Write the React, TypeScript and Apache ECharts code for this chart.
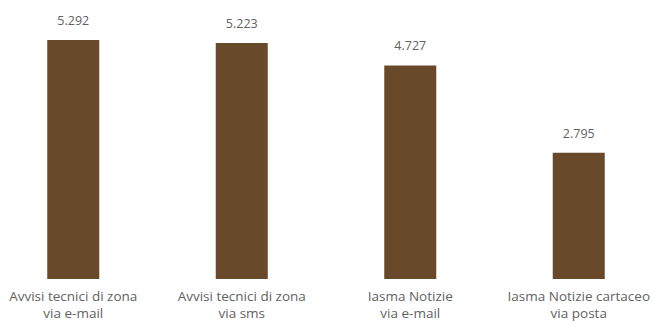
import React, { useEffect, useRef } from "react";
import * as echarts from "echarts";

const categories = [
  "Avvisi tecnici di zona\nvia e-mail",
  "Avvisi tecnici di zona\nvia sms",
  "Iasma Notizie\nvia e-mail",
  "Iasma Notizie cartaceo\nvia posta",
];
const values = [5292, 5223, 4727, 2795];

const fmt = (v: number) => String(v).replace(/\B(?=(\d{3})+(?!\d))/g, ".");

export default function App() {
  const ref = useRef<HTMLDivElement>(null);
  useEffect(() => {
    if (!ref.current) return;
    const chart = echarts.init(ref.current, null, { renderer: "svg" });
    chart.setOption({
      animation: false,
      grid: { left: 0, right: 0, top: 8, bottom: 40, containLabel: false },
      xAxis: {
        type: "category",
        data: categories,
        axisLine: { show: false },
        axisTick: { show: false },
        axisLabel: {
          interval: 0,
          color: "#626262",
          fontFamily: "'Open Sans', sans-serif",
          fontSize: 13.5,
          lineHeight: 17,
          margin: 8,
        },
      },
      yAxis: {
        type: "value",
        min: 0,
        max: 6000,
        show: false,
        splitLine: { show: false },
      },
      series: [
        {
          type: "bar",
          data: values,
          barWidth: 52,
          itemStyle: { color: "#684a2a" },
          label: {
            show: true,
            position: "top",
            distance: 13,
            color: "#626262",
            fontFamily: "'Open Sans', sans-serif",
            fontSize: 12.5,
            formatter: (p: any) => fmt(p.value),
          },
        },
      ],
    });
    return () => chart.dispose();
  }, []);
  return (
    <div style={{ width: 653, height: 321, position: "absolute", left: 0, top: 0, overflow: "hidden" }}>
      <div ref={ref} style={{ width: 674, height: 321, position: "absolute", left: -11, top: 0 }} />
    </div>
  );
}
